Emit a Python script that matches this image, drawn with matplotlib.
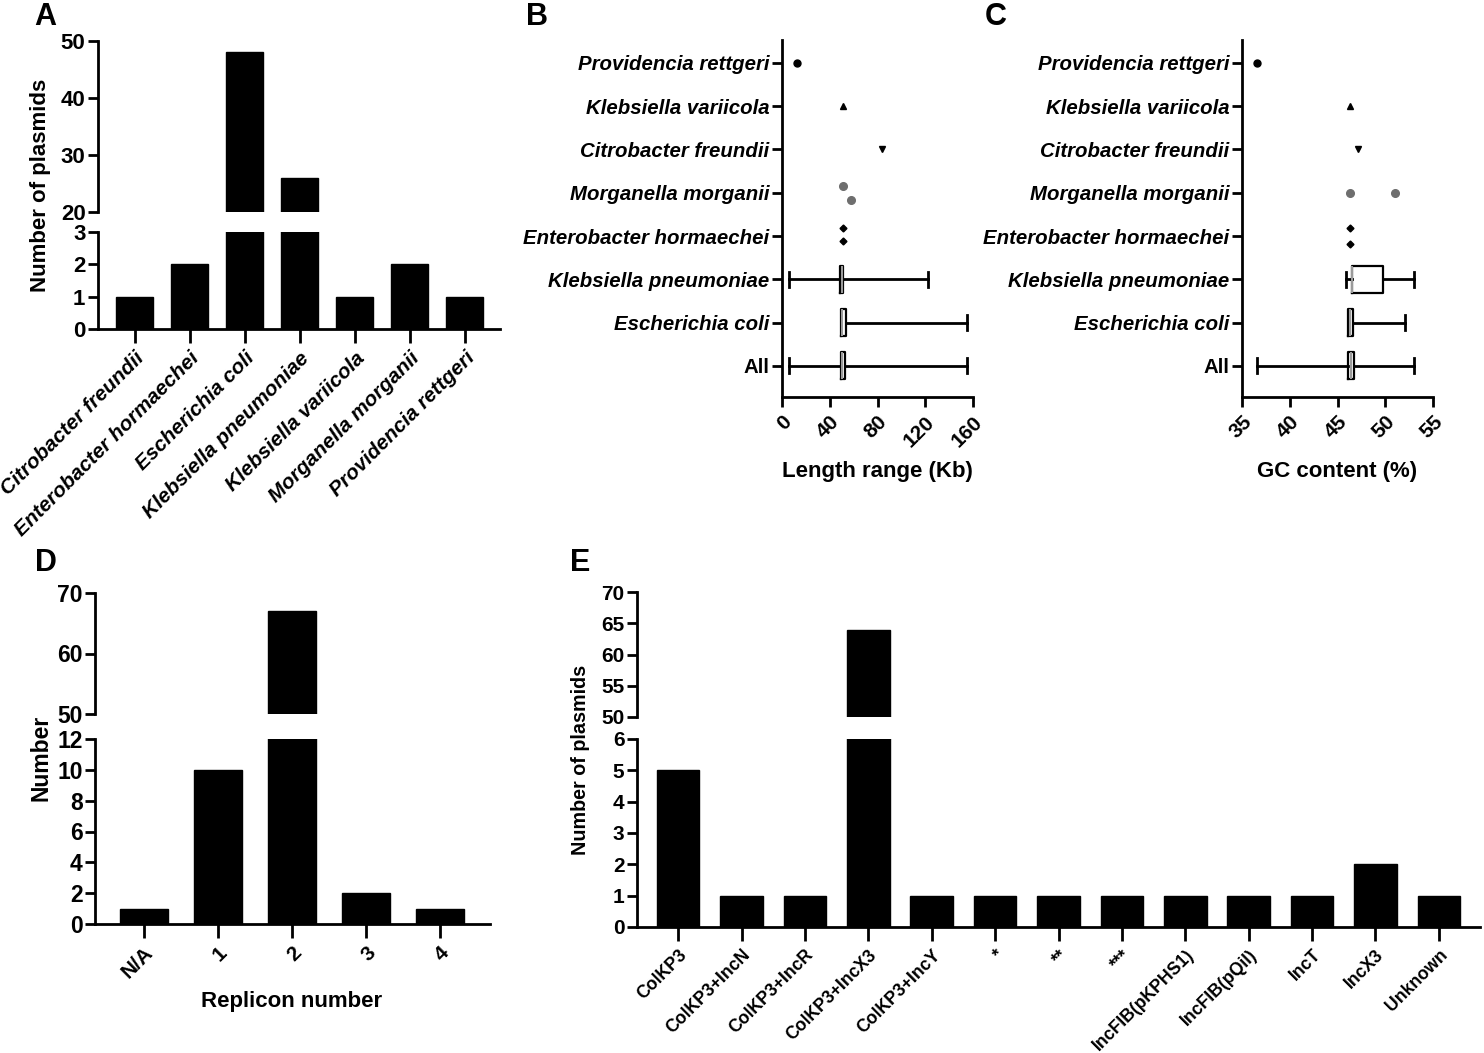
import matplotlib.pyplot as plt

plt.rcParams['font.family'] = ['Liberation Sans', 'DejaVu Sans']
plt.rcParams['font.weight'] = 'bold'
plt.rcParams['axes.labelweight'] = 'bold'

# ---- data ----
species = ['Citrobacter freundii', 'Enterobacter hormaechei', 'Escherichia coli',
           'Klebsiella pneumoniae', 'Klebsiella variicola', 'Morganella morganii',
           'Providencia rettgeri']
species_counts = [1, 2, 48, 26, 1, 2, 1]

replicon_labels = ['N/A', '1', '2', '3', '4']
replicon_counts = [1, 10, 67, 2, 1]

inc_labels = ['ColKP3', 'ColKP3+IncN', 'ColKP3+IncR', 'ColKP3+IncX3', 'ColKP3+IncY',
              '*', '**', '***', 'IncFIB(pKPHS1)', 'IncFIB(pQil)', 'IncT', 'IncX3', 'Unknown']
inc_counts = [5, 1, 1, 64, 1, 1, 1, 1, 1, 1, 1, 2, 1]

row_labels = ['All', 'Escherichia coli', 'Klebsiella pneumoniae', 'Enterobacter hormaechei',
              'Morganella morganii', 'Citrobacter freundii', 'Klebsiella variicola',
              'Providencia rettgeri']

# box summaries for rows All, E. coli, K. pneumoniae
len_whislo = [6, 49.5, 6]
len_q1 = [49.5, 49.5, 48.5]
len_med = [50.5, 50.5, 50]
len_q3 = [53, 53.5, 51]
len_whishi = [155, 155, 122]

gc_whislo = [36.6, 46.1, 45.9]
gc_q1 = [46.1, 46.1, 46.5]
gc_med = [46.4, 46.3, 46.5]
gc_q3 = [46.7, 46.6, 49.8]
gc_whishi = [53.0, 52.1, 53.0]

# single plasmids of the other species
pt_species = ['Providencia rettgeri', 'Klebsiella variicola', 'Citrobacter freundii',
              'Morganella morganii', 'Morganella morganii',
              'Enterobacter hormaechei', 'Enterobacter hormaechei']
len_points = [12.6, 51, 84, 51, 57.8, 51, 51]
len_jitter = [0, 0, 0, 0.16, -0.16, 0.18, -0.12]
gc_points = [36.6, 46.3, 47.1, 46.3, 51.0, 46.3, 46.3]
gc_jitter = [0, 0, 0, 0, 0, 0.18, -0.18]

marker_style = {
    'Providencia rettgeri': ('o', 'black', 5),
    'Klebsiella variicola': ('^', 'black', 5),
    'Citrobacter freundii': ('v', 'black', 5),
    'Morganella morganii': ('o', '#6e6e6e', 5.5),
    'Enterobacter hormaechei': ('D', 'black', 3.5),
}

W, H = 1484, 1053
fig = plt.figure(figsize=(W / 100, H / 100), dpi=100)
LW = 2.0


def style(ax):
    for s in ['top', 'right']:
        ax.spines[s].set_visible(False)
    for s in ['left', 'bottom']:
        ax.spines[s].set_linewidth(LW)
    ax.tick_params(width=LW, length=7, direction='out')


def broken_bars(lo_rect, hi_rect, labels, counts, lo_lim, hi_lim, lo_ticks, hi_ticks,
                xlim, width, ytick_size, xtick_size, italic):
    ax_lo = fig.add_axes(lo_rect)
    ax_hi = fig.add_axes(hi_rect)
    x = list(range(len(labels)))
    for ax, lim, ticks in [(ax_lo, lo_lim, lo_ticks), (ax_hi, hi_lim, hi_ticks)]:
        ax.bar(x, counts, width=width, color='black', edgecolor='black')
        ax.set_ylim(*lim)
        ax.set_yticks(ticks)
        ax.set_xlim(*xlim)
        style(ax)
        ax.tick_params(axis='y', labelsize=ytick_size, pad=2)
    ax_hi.spines['bottom'].set_visible(False)
    ax_hi.set_xticks([])
    ax_lo.set_xticks(x)
    ax_lo.set_xticklabels(labels, rotation=45, ha='right', rotation_mode='anchor',
                          fontsize=xtick_size, fontstyle='italic' if italic else 'normal')
    ax_lo.tick_params(axis='x', length=10, pad=4)
    return ax_lo, ax_hi


# ---- panel A ----
broken_bars([98 / W, 1 - 329 / H, 402 / W, 97 / H], [98 / W, 1 - 212 / H, 402 / W, 171 / H],
            species, species_counts, (0, 3), (20, 50), [0, 1, 2, 3], [20, 30, 40, 50],
            (-0.67, 6.64), 0.67, 16, 15, True)
fig.text(41 / W, 1 - 185 / H, 'Number of plasmids', rotation=90, ha='center', va='center',
         fontsize=16, fontweight='bold')

# ---- panel D ----
broken_bars([95 / W, 1 - 924 / H, 395 / W, 185 / H], [95 / W, 1 - 714 / H, 395 / W, 121 / H],
            replicon_labels, replicon_counts, (0, 12), (50, 70), [0, 2, 4, 6, 8, 10, 12],
            [50, 60, 70], (-0.66, 4.68), 0.65, 16.5, 15, False)
fig.text(41 / W, 1 - 758 / H, 'Number', rotation=90, ha='center', va='center',
         fontsize=16.5, fontweight='bold')
fig.text(292 / W, 1 - 1002 / H, 'Replicon number', ha='center', va='center',
         fontsize=16, fontweight='bold')

# ---- panel E ----
broken_bars([637 / W, 1 - 927 / H, 843 / W, 188 / H], [637 / W, 1 - 717 / H, 843 / W, 125 / H],
            inc_labels, inc_counts, (0, 6), (50, 70), [0, 1, 2, 3, 4, 5, 6],
            [50, 55, 60, 65, 70], (-0.65, 12.65), 0.67, 15, 12.7, False)
fig.text(581 / W, 1 - 760 / H, 'Number of plasmids', rotation=90, ha='center', va='center',
         fontsize=14.2, fontweight='bold')


# ---- panels B and C ----
def range_panel(left, whislo, q1, med, q3, whishi, points, jitter, xlim, xticks, xlabel):
    ax = fig.add_axes([left / W, 1 - 397 / H, 191 / W, 357 / H])
    stats = [{'whislo': a, 'q1': b, 'med': c, 'q3': d, 'whishi': e, 'fliers': []}
             for a, b, c, d, e in zip(whislo, q1, med, q3, whishi)]
    ax.bxp(stats, positions=[0, 1, 2], orientation='horizontal', widths=0.62,
           capwidths=0.35, manage_ticks=False, showfliers=False,
           boxprops=dict(color='black', linewidth=1.6),
           whiskerprops=dict(color='black', linewidth=2),
           capprops=dict(color='black', linewidth=2),
           medianprops=dict(color='#9a9a9a', linewidth=1.5))
    for sp, v, j in zip(pt_species, points, jitter):
        m, c, s = marker_style[sp]
        ax.plot(v, row_labels.index(sp) + j, marker=m, color=c, markersize=s, linestyle='none')
    ax.set_xlim(*xlim)
    ax.set_ylim(-0.72, 7.53)
    ax.set_xticks(xticks)
    ax.set_xticklabels([str(t) for t in xticks], rotation=45, ha='right',
                       rotation_mode='anchor', fontsize=15)
    ax.set_yticks(range(len(row_labels)))
    ylab = ax.set_yticklabels(row_labels, fontsize=14.7)
    for t in ylab:
        if t.get_text() != 'All':
            t.set_fontstyle('italic')
    style(ax)
    ax.tick_params(axis='y', pad=2)
    ax.tick_params(axis='x', pad=4)
    fig.text((left + 95) / W, 1 - 471 / H, xlabel, ha='center', va='center',
             fontsize=16, fontweight='bold')
    return ax


range_panel(782, len_whislo, len_q1, len_med, len_q3, len_whishi, len_points, len_jitter,
            (0, 160), [0, 40, 80, 120, 160], 'Length range (Kb)')
range_panel(1242, gc_whislo, gc_q1, gc_med, gc_q3, gc_whishi, gc_points, gc_jitter,
            (35, 55), [35, 40, 45, 50, 55], 'GC content (%)')

# panel letters
for letter, px, py in [('A', 45, 17), ('B', 537, 17), ('C', 996, 17), ('D', 46, 563), ('E', 580, 563)]:
    fig.text(px / W, 1 - py / H, letter, ha='center', va='center', fontsize=22, fontweight='bold')

fig.savefig('out.png', dpi=100)
